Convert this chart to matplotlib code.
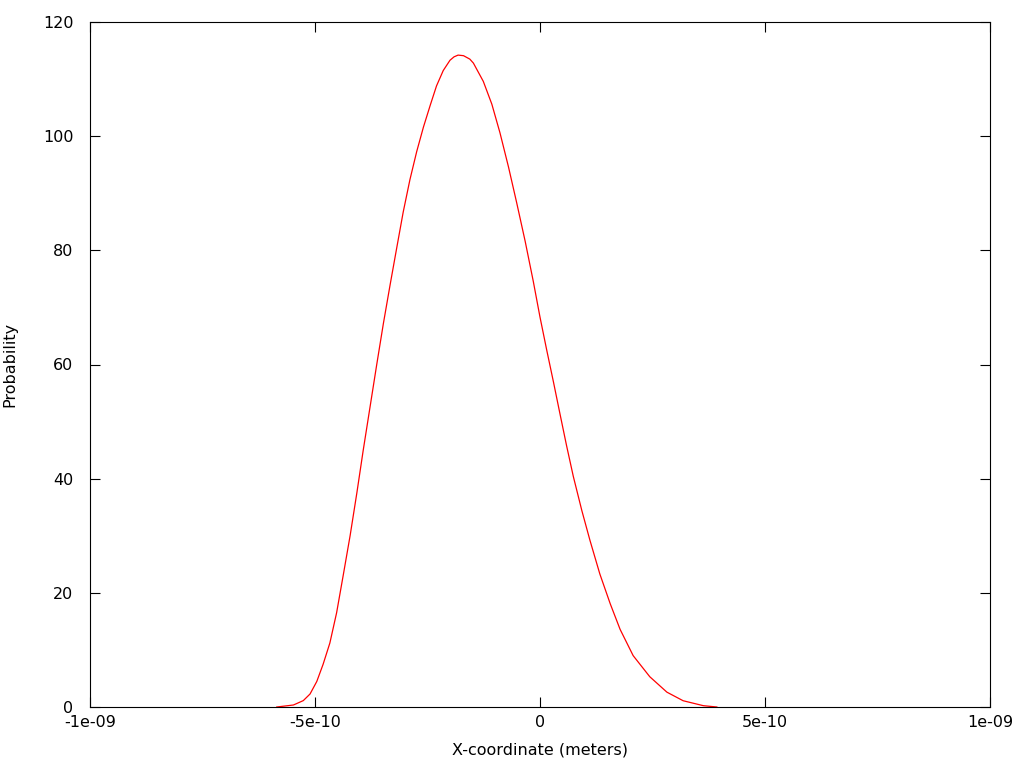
import matplotlib
matplotlib.use("Agg")
import matplotlib.pyplot as plt

# Data (x in meters, y = probability)
x_pos = [-5.85e-10, -5.48e-10, -5.26e-10, -5.11e-10, -4.96e-10, -4.82e-10, -4.67e-10,
         -4.52e-10, -4.37e-10, -4.22e-10, -4.07e-10, -3.93e-10, -3.78e-10, -3.63e-10,
         -3.48e-10, -3.33e-10, -3.18e-10, -3.04e-10, -2.89e-10, -2.74e-10, -2.59e-10,
         -2.44e-10, -2.30e-10, -2.15e-10, -2.00e-10, -1.91e-10, -1.82e-10, -1.70e-10,
         -1.56e-10, -1.48e-10,
         -1.26e-10, -1.07e-10, -0.89e-10, -0.70e-10, -0.52e-10, -0.33e-10, -0.15e-10,
         0.0, 0.15e-10, 0.30e-10, 0.44e-10, 0.59e-10, 0.74e-10, 0.93e-10, 1.11e-10,
         1.33e-10, 1.56e-10, 1.78e-10, 2.07e-10, 2.44e-10, 2.82e-10, 3.18e-10,
         3.63e-10, 3.93e-10]
prob = [0.0, 0.35, 1.12, 2.28, 4.48, 7.48, 11.2,
        16.5, 23.2, 30.0, 37.5, 44.9, 52.4, 59.9,
        67.2, 74.0, 80.6, 86.7, 92.4, 97.3, 101.6,
        105.4, 108.8, 111.5, 113.3, 113.9, 114.2, 114.1,
        113.5, 112.8,
        109.6, 105.6, 100.6, 94.6, 88.4, 81.6, 74.6,
        68.3, 62.5, 56.9, 51.5, 45.8, 40.4, 34.4, 29.2,
        23.3, 18.1, 13.6, 9.0, 5.3, 2.6, 1.1,
        0.23, 0.0]

x_ticks = [-1e-9, -5e-10, 0, 5e-10, 1e-9]
x_tick_labels = ["-1e-09", "-5e-10", "0", "5e-10", "1e-09"]
y_ticks = [0, 20, 40, 60, 80, 100, 120]
y_tick_labels = ["0", "20", "40", "60", "80", "100", "120"]

plt.rcParams['font.family'] = ['DejaVu Sans']
fig = plt.figure(figsize=(10.24, 7.68), dpi=100)
ax = fig.add_axes([90/1024, 61/768, 900/1024, 685/768])

ax.plot(x_pos, prob, color="red", lw=0.9)

ax.set_xlim(-1e-9, 1e-9)
ax.set_ylim(0, 120)
ax.set_xticks(x_ticks)
ax.set_xticklabels(x_tick_labels)
ax.set_yticks(y_ticks)
ax.set_yticklabels(y_tick_labels)

ax.tick_params(direction="in", length=7, width=0.8, top=True, right=True,
               labelsize=11.5, colors="black", pad=6)
ax.tick_params(axis="y", pad=12)
for sp in ax.spines.values():
    sp.set_linewidth(0.8)

ax.set_xlabel("X-coordinate (meters)", fontsize=11.5, labelpad=9)
ax.set_ylabel("Probability", fontsize=11.5, labelpad=18)

fig.savefig("out.png", dpi=100, facecolor="white")
